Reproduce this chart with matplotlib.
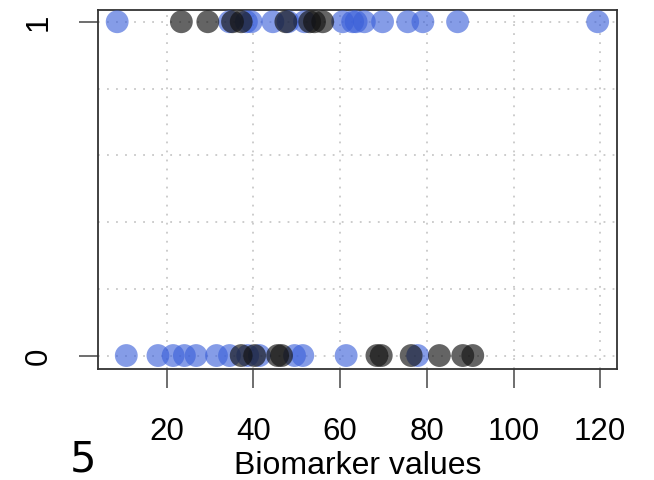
import numpy as np
import matplotlib.pyplot as plt

plt.rcParams['font.family'] = ['Liberation Sans', 'DejaVu Sans']

# Biomarker values by outcome (1 = event, 0 = no event) and group
blue_1 = [8.6, 34.5, 38.4, 39.5, 44.5, 48.0, 51.8, 60.6, 62.9, 63.7, 65.6,
          69.8, 75.6, 79.1, 87.1, 119.4]
black_1 = [23.4, 29.5, 35.2, 37.2, 47.5, 53.0, 54.1, 56.0]
blue_0 = [10.7, 18.0, 21.5, 24.1, 26.8, 31.5, 34.5, 38.7, 41.4, 49.5, 51.4,
          61.4, 77.9]
black_0 = [37.2, 40.3, 45.6, 46.5, 68.5, 69.5, 76.4, 82.9, 88.3, 90.6]

xticks = [20, 40, 60, 80, 100, 120]

fig = plt.figure(figsize=(6.54, 4.81), dpi=100)
ax = fig.add_axes([0.150, 0.231, 0.793, 0.746])

ax.scatter(blue_0 + blue_1, [0] * len(blue_0) + [1] * len(blue_1),
           s=270, color='#3a5fd9', alpha=0.62, edgecolors='none', zorder=3)
ax.scatter(black_0 + black_1, [0] * len(black_0) + [1] * len(black_1),
           s=270, color='#111111', alpha=0.65, edgecolors='none', zorder=3)

ax.set_xlim(4.2, 123.8)
ax.set_ylim(-0.04, 1.035)
ax.set_xticks(xticks)
ax.set_yticks([0, 1])
ax.set_yticklabels(['0', '1'], rotation=90, va='center')
ax.tick_params(axis='both', labelsize=22.5, length=14, width=1.2,
               color='#555555', pad=20)
ax.tick_params(axis='y', pad=18)

for v in xticks:
    ax.axvline(v, color='#c8c8c8', lw=1.3, ls=(0, (1, 4)), zorder=1)
for v in np.arange(0, 1.01, 0.2):
    ax.axhline(v, color='#c8c8c8', lw=1.3, ls=(0, (1, 4)), zorder=1)

for s in ax.spines.values():
    s.set_linewidth(1.3)
    s.set_color('#333333')

ax.set_xlabel('Biomarker values', fontsize=23, labelpad=3)
fig.text(0.127, 0.002, '5', fontsize=30, ha='center', va='bottom',
         family=['DejaVu Sans'])

fig.savefig('out.png', dpi=100)
